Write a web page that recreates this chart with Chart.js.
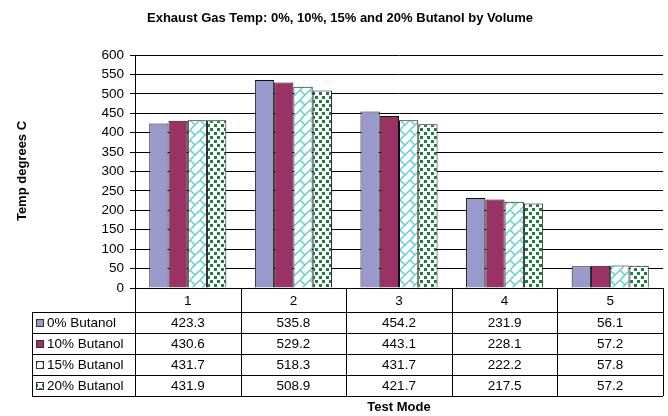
<!DOCTYPE html>
<html><head><meta charset="utf-8">
<script src="https://cdn.jsdelivr.net/npm/chart.js@4/dist/chart.umd.min.js"></script>
<style>html,body{margin:0;padding:0;background:#fff;}#wrap{width:668px;height:416px;}</style>
</head><body><div id="wrap"><canvas id="c" width="668" height="416"></canvas></div>
<script>
const categories = ['1','2','3','4','5'];
const seriesNames = ['0% Butanol','10% Butanol','15% Butanol','20% Butanol'];
const butanol0 = [423.3, 535.8, 454.2, 231.9, 56.1];
const butanol10 = [430.6, 529.2, 443.1, 228.1, 57.2];
const butanol15 = [431.7, 518.3, 431.7, 222.2, 57.8];
const butanol20 = [431.9, 508.9, 421.7, 217.5, 57.2];
const yTicks = {min: 0, max: 600, step: 50};
const titleText = 'Exhaust Gas Temp: 0%, 10%, 15% and 20% Butanol by Volume';
const yTitle = 'Temp degrees C';
const xTitle = 'Test Mode';

const FONT = '"Liberation Sans", Arial, sans-serif';

function makeBrick() {
  const s = 10, c = document.createElement('canvas');
  c.width = s; c.height = s;
  const g = c.getContext('2d');
  g.fillStyle = '#fff'; g.fillRect(0,0,s,s);
  g.strokeStyle = '#55CFCF'; g.lineWidth = 1.3;
  g.beginPath(); g.moveTo(-1, s+1); g.lineTo(s+1, -1); g.stroke();
  g.beginPath(); g.moveTo(0, 0); g.lineTo(s/2, s/2); g.stroke();
  return g.createPattern(c, 'repeat');
}
function makeDots() {
  const w = 7, h = 8, c = document.createElement('canvas');
  c.width = w; c.height = h;
  const g = c.getContext('2d');
  g.fillStyle = '#fff'; g.fillRect(0,0,w,h);
  g.fillStyle = '#1B7D3E';
  g.fillRect(0,0,3,3); g.fillRect(4,4,3,3);
  return g.createPattern(c, 'repeat');
}
const ctx0 = document.getElementById('c').getContext('2d');
const fills = ['#9999CC', '#993366', makeBrick(), makeDots()];
const seriesData = [butanol0, butanol10, butanol15, butanol20];

const tablePlugin = {
  id: 'tablePlugin',
  afterDraw(chart) {
    const ctx = chart.ctx, a = chart.chartArea;
    const L = a.left, R = a.right, B = a.bottom;
    const n = categories.length, cw = (R - L) / n;
    const headH = 24, rowH = 21, leftX = 32;
    ctx.save();
    ctx.fillStyle = '#000';
    ctx.font = 'bold 13px ' + FONT;
    ctx.textAlign = 'center'; ctx.textBaseline = 'middle';
    ctx.fillText(titleText, 340, 18);
    ctx.save();
    ctx.translate(22, 171); ctx.rotate(-Math.PI/2);
    ctx.fillText(yTitle, 0, 0);
    ctx.restore();
    ctx.fillText(xTitle, (L + R) / 2, 407);
    ctx.strokeStyle = '#000'; ctx.lineWidth = 1;
    const px = v => Math.round(v) + 0.5;
    const rowsTop = B + headH, tableBottom = rowsTop + rowH * seriesNames.length;
    ctx.beginPath();
    ctx.moveTo(L, px(B)); ctx.lineTo(R, px(B));
    for (let r = 0; r <= seriesNames.length; r++) {
      const y = px(rowsTop + r * rowH);
      ctx.moveTo(leftX, y); ctx.lineTo(R, y);
    }
    for (let i = 0; i <= n; i++) {
      const x = px(L + i * cw);
      ctx.moveTo(x, B); ctx.lineTo(x, tableBottom);
    }
    ctx.moveTo(px(leftX), rowsTop); ctx.lineTo(px(leftX), tableBottom);
    ctx.stroke();
    ctx.font = '13.5px ' + FONT;
    ctx.textAlign = 'center';
    for (let i = 0; i < n; i++) {
      const cx = L + (i + 0.5) * cw;
      ctx.fillText(categories[i], cx, B + headH / 2 + 1);
      for (let r = 0; r < seriesNames.length; r++) {
        ctx.fillText(seriesData[r][i].toFixed(1), cx, rowsTop + r * rowH + rowH / 2 + 1);
      }
    }
    ctx.textAlign = 'left';
    for (let r = 0; r < seriesNames.length; r++) {
      const yc = rowsTop + r * rowH + rowH / 2;
      ctx.fillStyle = fills[r];
      ctx.fillRect(36, Math.round(yc) - 4, 8, 8);
      ctx.strokeStyle = '#333';
      ctx.strokeRect(36.5, Math.round(yc) - 3.5, 7, 7);
      ctx.fillStyle = '#000';
      ctx.fillText(seriesNames[r], 47, yc + 1);
    }
    ctx.restore();
  }
};

new Chart(ctx0, {
  type: 'bar',
  data: {
    labels: categories,
    datasets: seriesNames.map((name, i) => ({
      label: name,
      data: seriesData[i],
      backgroundColor: fills[i],
      borderColor: '#111',
      borderWidth: 1,
      categoryPercentage: 0.73,
      barPercentage: 1.0
    }))
  },
  options: {
    responsive: false,
    animation: false,
    devicePixelRatio: 1,
    layout: {padding: {top: 55, bottom: 128, left: 0, right: 5}},
    plugins: {legend: {display: false}, title: {display: false}, tooltip: {enabled: false}},
    scales: {
      x: {display: false},
      y: {
        min: yTicks.min, max: yTicks.max,
        ticks: {stepSize: yTicks.step, color: '#000', padding: 6, font: {family: FONT, size: 13.5}},
        grid: {color: '#000', lineWidth: 1, tickLength: 5, drawTicks: true},
        border: {display: true, color: '#000', width: 1},
        afterFit(axis) { axis.width = 135; }
      }
    }
  },
  plugins: [tablePlugin]
});
</script></body></html>
